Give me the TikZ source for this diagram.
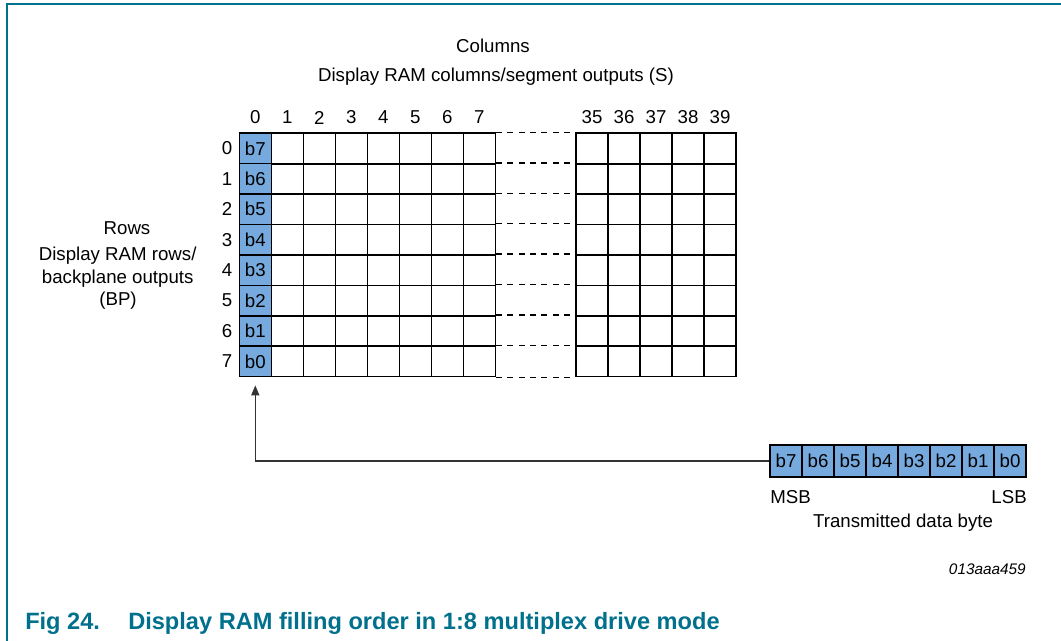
\documentclass[tikz,border=0pt]{standalone}
\usepackage{fontspec}
\setmainfont{Liberation Sans}
\usetikzlibrary{arrows.meta}
\definecolor{ramblue}{RGB}{118,170,222}
\definecolor{nxpteal}{RGB}{0,112,140}

\begin{document}
\begin{tikzpicture}[x=0.75pt, y=-0.75pt,
	every node/.style={inner sep=0pt, font=\fontsize{14}{17}\selectfont},
	cell/.style={draw=black, line width=1.2pt, minimum width=24pt, minimum height=22.8pt},
	bit/.style={cell, fill=ramblue},
	gap/.style={draw=black, line width=1.1pt, dash pattern=on 4.5pt off 4pt},
	caption/.style={text=nxpteal, font=\fontsize{17.7}{21}\selectfont\bfseries}]
					\useasboundingbox (0,0) rectangle (1061,641);
					\draw[nxpteal, line width=1.5pt] (7,641) -- (7,4) -- (1061,4);
					
					\node[anchor=base] (cols) at (493,52.4){Columns};
					\node[anchor=base] (colsub) at (496,82){Display RAM columns/segment outputs (S)};
					
					\node (rows) at (127,228){Rows};
					\node[anchor=base] (rowsub1) at (117.7,260.7){Display RAM rows/};
					\node[anchor=base] (rowsub2) at (117.7,283.3){backplane outputs};
					\node[anchor=base] (rowsub3) at (118,306){(BP)};
					
					\node[bit] (s0-0) at (255.3,148.5){b7};
					\node[bit] (s0-1) at (255.3,178.9){b6};
					\node[bit] (s0-2) at (255.3,209.3){b5};
					\node[bit] (s0-3) at (255.3,239.8){b4};
					\node[bit] (s0-4) at (255.3,270.2){b3};
					\node[bit] (s0-5) at (255.3,300.6){b2};
					\node[bit] (s0-6) at (255.3,331.0){b1};
					\node[bit] (s0-7) at (255.3,361.4){b0};
					
					\foreach \c in {1,...,7}
						\foreach \r in {0,...,7}
							\node[cell] (s\c-\r) at ({255.3+32*\c},{148.5+30.42*\r}){};
					\foreach \c in {35,...,39}
						\foreach \r in {0,...,7}
							\node[cell] (s\c-\r) at ({592+32*(\c-35)},{148.5+30.42*\r}){};
					
					\foreach \c in {0,...,7}
						\node (col\c) at ({255.3+32*\c},117.5){\c};
					\foreach \c in {35,...,39}
						\node (col\c) at ({592+32*(\c-35)},117.5){\c};
					\foreach \r in {0,...,7}
						\node (row\r) at (227,{148.5+30.42*\r}){\r};
					
					\foreach \r in {0,...,7}
						\draw[gap] (s7-\r.north east) -- (s35-\r.north west);
					\draw[gap] (s7-7.south east) -- (s35-7.south west);
					
					\node[bit, minimum height=24pt] (m7) at (786,461){b7};
					\node[bit, minimum height=24pt] (m6) at (818,461){b6};
					\node[bit, minimum height=24pt] (m5) at (850,461){b5};
					\node[bit, minimum height=24pt] (m4) at (882,461){b4};
					\node[bit, minimum height=24pt] (m3) at (914,461){b3};
					\node[bit, minimum height=24pt] (m2) at (946,461){b2};
					\node[bit, minimum height=24pt] (m1) at (978,461){b1};
					\node[bit, minimum height=24pt] (m0) at (1010,461){b0};
					
					\draw[black!80, line width=1.1pt, -{Triangle[length=7.5pt,width=6pt]}, shorten >=6pt] (m7.west) -| (s0-7.south);
					
					\node[anchor=west] (msb) at (770,497.5){MSB};
					\node[anchor=east] (lsb) at (1027,497.5){LSB};
					\node[anchor=base] (txbyte) at (903,527.3){Transmitted data byte};
					\node[anchor=base east, font=\fontsize{11.5}{14}\selectfont\itshape] (figid) at (1026,575){013aaa459};
					
					\node[caption, anchor=base west] (fignum) at (25,629.5){Fig 24.};
					\node[caption, anchor=base west] (figtitle) at (128,629.5){Display RAM filling order in 1:8 multiplex drive mode};
\end{tikzpicture}
\end{document}
